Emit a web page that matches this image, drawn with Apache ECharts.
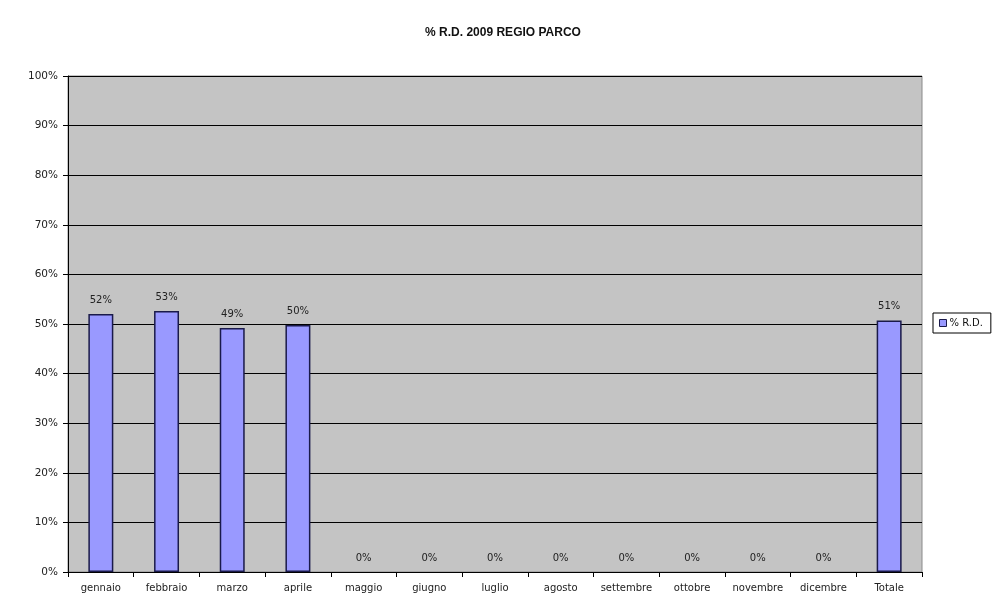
<!DOCTYPE html>
<html>
<head>
<meta charset="utf-8">
<script src="https://cdn.jsdelivr.net/npm/echarts@6/dist/echarts.min.js"></script>
<style>
  html, body { margin: 0; padding: 0; background: #ffffff; }
  #chart { width: 996px; height: 599px; }
</style>
</head>
<body>
<div id="chart"></div>
<script>
// Monthly percentage of separate waste collection, 2009
const months = ['gennaio', 'febbraio', 'marzo', 'aprile', 'maggio', 'giugno', 'luglio',
  'agosto', 'settembre', 'ottobre', 'novembre', 'dicembre', 'Totale'];
const rdPercent = [52.0, 52.6, 49.2, 49.8, 0, 0, 0, 0, 0, 0, 0, 0, 50.7];
const yTicks = [0, 10, 20, 30, 40, 50, 60, 70, 80, 90, 100];

const titleFont = '"Liberation Sans", Arial, sans-serif';
const font = '"DejaVu Sans", Verdana, sans-serif';
const chart = echarts.init(document.getElementById('chart'));

chart.setOption({
  animation: false,
  backgroundColor: '#ffffff',
  title: {
    text: '% R.D. 2009 REGIO PARCO',
    left: 498,
    top: 22,
    textAlign: 'center',
    textStyle: { fontFamily: titleFont, fontSize: 12, fontWeight: 'bold', color: '#111' }
  },
  legend: {
    data: [{ name: '% R.D.', icon: 'rect' }],
    left: 933,
    top: 313,
    orient: 'vertical',
    itemWidth: 7,
    itemHeight: 7,
    itemGap: 0,
    padding: [5, 8, 5, 6],
    borderColor: '#000',
    borderWidth: 1,
    itemStyle: { borderColor: '#1a1a4a', borderWidth: 1 },
    textStyle: { fontFamily: font, fontSize: 10, color: '#111', padding: [0, 0, 0, -2] }
  },
  grid: {
    left: 68, right: 74, top: 76, bottom: 27,
    show: true,
    backgroundColor: '#c4c4c4',
    borderColor: '#8a8a8a',
    borderWidth: 1
  },
  xAxis: {
    type: 'category',
    data: months,
    axisLine: { lineStyle: { color: '#000', width: 1 } },
    axisTick: { show: true, length: 5, alignWithLabel: false, lineStyle: { color: '#000' } },
    axisLabel: { fontFamily: font, fontSize: 10, color: '#222', margin: 11, interval: 0 }
  },
  yAxis: {
    type: 'value',
    min: yTicks[0],
    max: yTicks[yTicks.length - 1],
    interval: 10,
    axisLine: { show: true, lineStyle: { color: '#000', width: 1 } },
    axisTick: { show: true, length: 5, lineStyle: { color: '#000' } },
    splitLine: { show: true, lineStyle: { color: '#000', width: 1.2 } },
    axisLabel: {
      fontFamily: font, fontSize: 10.5, color: '#222', margin: 10,
      formatter: v => v + '%'
    }
  },
  series: [{
    name: '% R.D.',
    type: 'bar',
    // empty months get no outline so only their label shows
    data: rdPercent.map(v => (v === 0 ? { value: v, itemStyle: { borderWidth: 0 } } : v)),
    barWidth: '38%',
    itemStyle: { color: '#9999ff', borderColor: '#1a1a4a', borderWidth: 1.5 },
    label: {
      show: true,
      position: 'top',
      distance: 9,
      fontFamily: font,
      fontSize: 10,
      color: '#222',
      formatter: p => Math.round(p.value) + '%'
    }
  }]
});
</script>
</body>
</html>
